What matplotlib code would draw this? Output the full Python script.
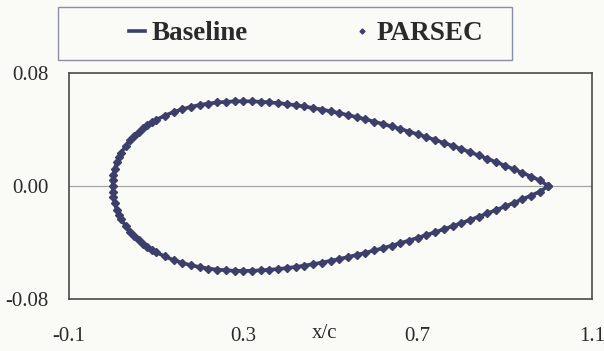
import numpy as np
import matplotlib
matplotlib.use("Agg")
import matplotlib.pyplot as plt
from matplotlib.patches import Rectangle

# -- DATA (symmetric section, upper half) -- #
x_c = [0.0, 0.0005, 0.002, 0.005, 0.01, 0.015, 0.02, 0.03, 0.04, 0.05,
       0.06, 0.07, 0.08, 0.09, 0.10, 0.12, 0.14, 0.16, 0.18, 0.20,
       0.22, 0.24, 0.26, 0.28, 0.30, 0.32, 0.34, 0.36, 0.38, 0.40,
       0.42, 0.44, 0.46, 0.48, 0.50, 0.52, 0.54, 0.56, 0.58, 0.60,
       0.62, 0.64, 0.66, 0.68, 0.70, 0.72, 0.74, 0.76, 0.78, 0.80,
       0.82, 0.84, 0.86, 0.88, 0.90, 0.92, 0.94, 0.96, 0.98, 1.00]
y_upper = [0.0, 0.00395, 0.00781, 0.01221, 0.01704, 0.02064, 0.02360, 0.02840, 0.03228, 0.03555,
           0.03838, 0.04086, 0.04307, 0.04505, 0.04683, 0.04988, 0.05238, 0.05442, 0.05607, 0.05738,
           0.05839, 0.05913, 0.05964, 0.05993, 0.06002, 0.05993, 0.05967, 0.05926, 0.05871, 0.05803,
           0.05723, 0.05631, 0.05528, 0.05416, 0.05294, 0.05164, 0.05025, 0.04878, 0.04724, 0.04563,
           0.04396, 0.04222, 0.04042, 0.03856, 0.03664, 0.03467, 0.03264, 0.03056, 0.02842, 0.02623,
           0.02399, 0.02169, 0.01934, 0.01694, 0.01448, 0.01196, 0.00938, 0.00674, 0.00403, 0.0]
# PARSEC points sit on top of the baseline
parsec_x = x_c
parsec_y = y_upper

x_ticks = [-0.1, 0.3, 0.7, 1.1]
y_ticks = [-0.08, 0.00, 0.08]
y_ticklabels = ['-0.08', '0.00', '0.08']

navy = '#3c3f6c'
bg = '#fafaf6'

plt.rcParams['font.family'] = ['Liberation Serif', 'DejaVu Serif']

# closed contour: upper TE->LE, then lower LE->TE
xb = np.concatenate([x_c[::-1], x_c[1:]])
yb = np.concatenate([y_upper[::-1], -np.array(y_upper[1:])])
xp = np.concatenate([parsec_x[::-1], parsec_x[1:]])
yp = np.concatenate([parsec_y[::-1], -np.array(parsec_y[1:])])

fig = plt.figure(figsize=(6.04, 3.51), dpi=100, facecolor=bg)
ax = fig.add_axes([0.1142, 0.148, 0.866, 0.644], facecolor=bg)

ax.axhline(0, color='#a3a3a3', lw=0.9, zorder=1)
ax.plot(xb, yb, '-', color=navy, lw=2.6, label='Baseline', zorder=2)
ax.plot(xp, yp, 'D', color=navy, ms=3.6, ls='none', label='PARSEC', zorder=3)

ax.set_xlim(-0.1, 1.1)
ax.set_ylim(-0.08, 0.08)
ax.set_xticks(x_ticks)
ax.set_xticklabels([str(t) for t in x_ticks])
ax.set_yticks(y_ticks)
ax.set_yticklabels(y_ticklabels)
ax.tick_params(axis='both', length=0, labelsize=15, colors='#2a2a2a')
ax.tick_params(axis='x', pad=20)
ax.tick_params(axis='y', pad=15)
for s in ax.spines.values():
    s.set_color('#4a4a4a')
    s.set_linewidth(1.2)

ax.set_xlabel('x/c', fontsize=15, color='#2a2a2a')
ax.xaxis.set_label_coords(0.489, -0.11)
ax.xaxis.label.set_va('top')

# legend box across the top
fig.patches.append(Rectangle((58 / 604, 1 - 60 / 351), 454 / 604, 53 / 351,
                             transform=fig.transFigure, fill=False,
                             edgecolor='#8a8ea8', lw=1.0))
leg = fig.legend(loc='center', bbox_to_anchor=(306 / 604, 1 - 34 / 351), ncol=2,
                 frameon=False, prop={'weight': 'bold', 'size': 19.5},
                 handlelength=0.6, handletextpad=0.25, columnspacing=3.9,
                 markerscale=0.7)
for t in leg.get_texts():
    t.set_color('#2a2a2a')

fig.savefig('out.png', dpi=100, facecolor=bg)
